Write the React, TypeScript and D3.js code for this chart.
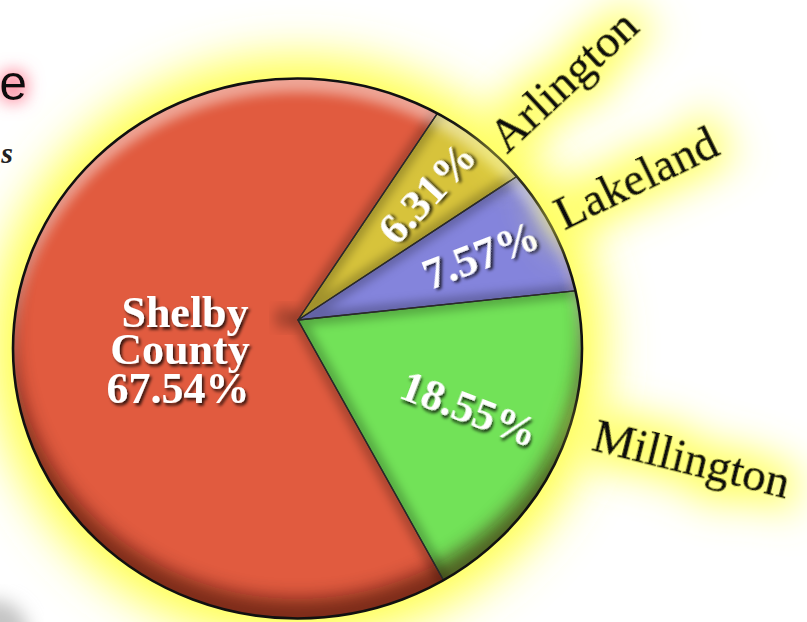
import React from 'react';
import * as d3 from 'd3';

// slices, clockwise from the Arlington wedge
const categories = ['Arlington', 'Lakeland', 'Millington', 'Shelby County'];
const shares = [6.31, 7.57, 18.55, 67.54];
const pctLabels = ['6.31%', '7.57%', '18.55%', '67.54%'];
const sliceColors = ['#d7c33b', '#8484dc', '#72e258', '#e15b3f'];

const W = 807, H = 622;
// pie drawn as a slightly tilted disc: ellipse outline, apex above its centre
const cx = 297.5, cy = 348.5, rx = 284.5, ry = 270;
const ax = 298, ay = 320;
const startDeg = 34;

const serif = '"Liberation Serif", "Times New Roman", Times, serif';

const ellipsePath = (x: number, y: number) =>
  `M${x - rx},${y} a${rx},${ry} 0 1,0 ${2 * rx},0 a${rx},${ry} 0 1,0 ${-2 * rx},0 Z`;
const outerBox = `M-200,-200 H${W + 200} V${H + 200} H-200 Z `;

export default function App() {
  const start = (startDeg * Math.PI) / 180;
  const pie = d3.pie<number>().sort(null).value(d => d)
    .startAngle(start).endAngle(start + 2 * Math.PI);
  const arcs = pie(shares);
  const arc = d3.arc<d3.PieArcDatum<number>>().innerRadius(0).outerRadius(440);

  // percent labels for the three small slices sit along their mid radius
  const pctDist = [181, 194, 193];
  const pctRot = [-47, -21, 21];

  const outer = [
    { x: 574, y: 92, rot: -43 },
    { x: 643, y: 192, rot: -26 },
    { x: 688, y: 474, rot: 14 },
  ];

  return (
    <svg width={W} height={H} style={{ position: 'fixed', left: 0, top: 0, background: '#fff' }}>
      <defs>
        <filter id="halo" x="-50%" y="-50%" width="200%" height="200%">
          <feGaussianBlur stdDeviation="24" />
        </filter>
        <filter id="blur9" x="-20%" y="-20%" width="140%" height="140%">
          <feGaussianBlur stdDeviation="9" />
        </filter>
        <filter id="blur6" x="-20%" y="-20%" width="140%" height="140%">
          <feGaussianBlur stdDeviation="6" />
        </filter>
        <filter id="blur5" x="-20%" y="-20%" width="140%" height="140%">
          <feGaussianBlur stdDeviation="5" />
        </filter>
        <filter id="labelGlow" x="-60%" y="-200%" width="220%" height="500%">
          <feMorphology in="SourceAlpha" operator="dilate" radius="10" result="d" />
          <feGaussianBlur in="d" stdDeviation="20" result="b" />
          <feFlood floodColor="#ffff5a" />
          <feComposite in2="b" operator="in" result="g" />
          <feMerge>
            <feMergeNode in="g" />
            <feMergeNode in="SourceGraphic" />
          </feMerge>
        </filter>
        <filter id="redGlow" x="-100%" y="-100%" width="300%" height="300%">
          <feMorphology in="SourceAlpha" operator="dilate" radius="3" result="d" />
          <feGaussianBlur in="d" stdDeviation="8" result="b" />
          <feFlood floodColor="#ff6d86" floodOpacity="0.7" />
          <feComposite in2="b" operator="in" result="g" />
          <feMerge>
            <feMergeNode in="g" />
            <feMergeNode in="SourceGraphic" />
          </feMerge>
        </filter>
        <filter id="txtShadow" x="-20%" y="-30%" width="140%" height="160%">
          <feDropShadow dx="2" dy="2.5" stdDeviation="1.6" floodColor="#000" floodOpacity="0.8" />
        </filter>
        <clipPath id="pieClip">
          <ellipse cx={cx} cy={cy} rx={rx} ry={ry} />
        </clipPath>
        {arcs.map((a, i) => (
          <clipPath id={`slice${i}`} key={i}>
            <path d={arc(a) || ''} transform={`translate(${ax},${ay})`} />
          </clipPath>
        ))}
      </defs>

      {/* grey corner bottom-left */}
      <ellipse cx={-5} cy={640} rx={35} ry={40} fill="#c4c4c4" filter="url(#blur9)" />

      {/* yellow halo round the pie */}
      <ellipse cx={cx} cy={cy} rx={rx + 22} ry={ry + 22} fill="#ffff50" filter="url(#halo)" />

      {/* left edge text remnants */}
      <text x={27} y={100} textAnchor="end" fontFamily='"Liberation Sans", Arial, sans-serif'
        fontSize={50} fill="#111" filter="url(#redGlow)">e</text>
      <text x={13} y={163} textAnchor="end" fontFamily={serif} fontStyle="italic"
        fontWeight="bold" fontSize={30} fill="#222">s</text>

      {/* slices */}
      <g clipPath="url(#pieClip)">
        <g transform={`translate(${ax},${ay})`}>
          {arcs.map((a, i) => (
            <path key={categories[i]} d={arc(a) || ''} fill={sliceColors[i]} />
          ))}
        </g>
        {/* soft inner edge on every slice */}
        {arcs.map((a, i) => (
          <g key={`e${i}`} clipPath={`url(#slice${i})`}>
            <path d={arc(a) || ''} transform={`translate(${ax},${ay})`} fill="none"
              stroke="#000" strokeOpacity={0.25} strokeWidth={14} filter="url(#blur5)" />
          </g>
        ))}
        {/* shadow next to the apex */}
        <circle cx={ax - 12} cy={ay - 2} r={12} fill="#000" opacity={0.22} filter="url(#blur6)" />
        {/* rim highlight on top, shade at bottom */}
        <path d={outerBox + ellipsePath(cx, cy + 14)} fillRule="evenodd" fill="#fff"
          opacity={0.45} filter="url(#blur6)" />
        <path d={outerBox + ellipsePath(cx, cy - 20)} fillRule="evenodd" fill="#3a0800"
          opacity={0.6} filter="url(#blur9)" />
        <g transform={`translate(${ax},${ay})`}>
          {arcs.map((a, i) => (
            <path key={`s${i}`} d={arc(a) || ''} fill="none" stroke="#2a2a2a" strokeWidth={1.3} />
          ))}
        </g>
      </g>
      <ellipse cx={cx} cy={cy} rx={rx} ry={ry} fill="none" stroke="#111" strokeWidth={2.6} />

      {/* percentage labels */}
      {arcs.slice(0, 3).map((a, i) => {
        const mid = (a.startAngle + a.endAngle) / 2;
        const x = ax + pctDist[i] * Math.sin(mid);
        const y = ay - pctDist[i] * Math.cos(mid);
        return (
          <text key={`p${i}`} transform={`translate(${x},${y}) rotate(${pctRot[i]})`}
            textAnchor="middle" dy="0.35em" fontFamily={serif} fontWeight="bold"
            fontSize={44} fill="#fff" filter="url(#txtShadow)">{pctLabels[i]}</text>
        );
      })}
      <g fontFamily={serif} fontWeight="bold" fontSize={44} fill="#fff"
        textAnchor="middle" filter="url(#txtShadow)">
        <text x={185} y={327}>Shelby</text>
        <text x={180} y={364}>County</text>
        <text x={178} y={403}>{pctLabels[3]}</text>
      </g>

      {/* category names outside */}
      {outer.map((o, i) => (
        <text key={`c${i}`} transform={`translate(${o.x},${o.y}) rotate(${o.rot})`}
          textAnchor="middle" fontFamily={serif} fontSize={47} fill="#111"
          stroke="#111" strokeWidth={0.8} filter="url(#labelGlow)">{categories[i]}</text>
      ))}
    </svg>
  );
}
